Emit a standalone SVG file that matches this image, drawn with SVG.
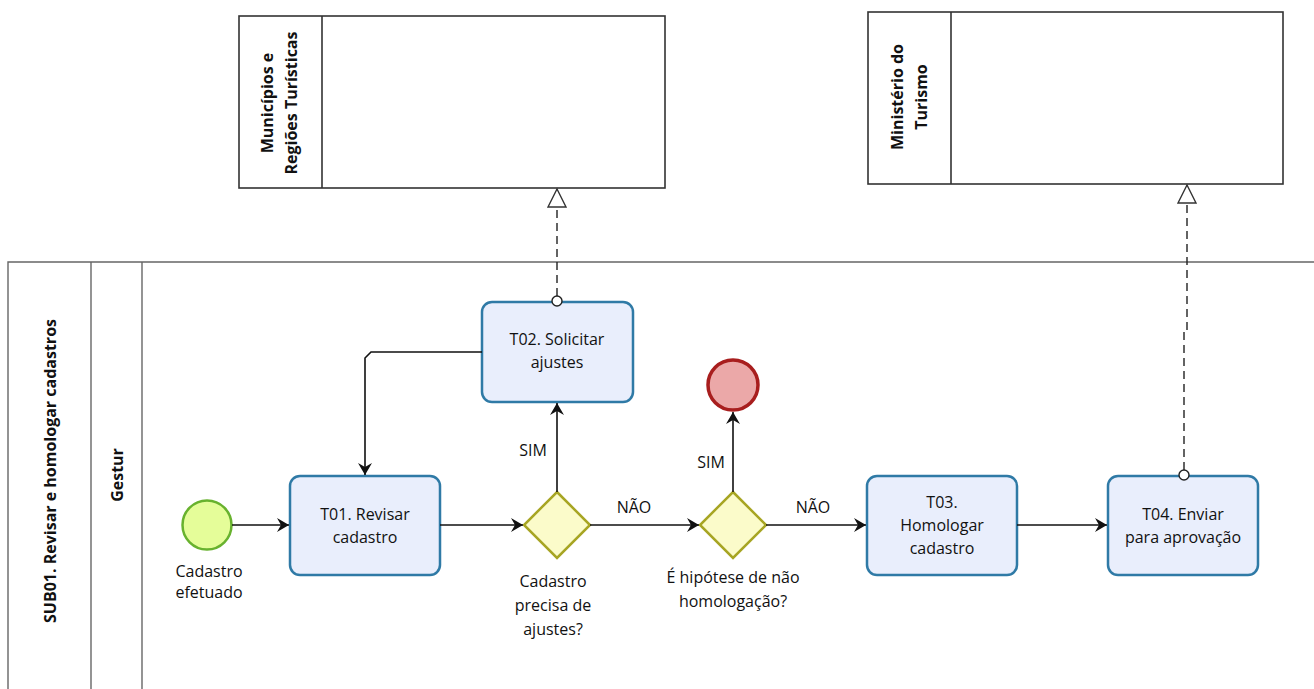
<svg xmlns="http://www.w3.org/2000/svg" width="1314" height="689" viewBox="0 0 1314 689">
<style>
text{font-family:"Open Sans","Noto Sans","Liberation Sans",sans-serif;fill:#111}
.lbl{font-size:16px;text-anchor:middle}
.pool{fill:#fff;stroke:#333;stroke-width:1.6}
.pl{font-size:16px;font-weight:bold;text-anchor:middle}
.task{fill:#e9eefc;stroke:#2f7aa6;stroke-width:2.5}
.gw{fill:#fbfbca;stroke:#a7a523;stroke-width:2.5}
.flow{fill:none;stroke:#111;stroke-width:1.6}
.msg{fill:none;stroke:#222;stroke-width:1.4;stroke-dasharray:8,5}
</style>
<defs>
<marker id="arr" markerWidth="14" markerHeight="14" refX="12" refY="7" orient="auto" markerUnits="userSpaceOnUse">
<path d="M0,0 L12,7 L0,14 L4,7 Z" fill="#111"/>
</marker>
<marker id="tri" markerWidth="22" markerHeight="20" refX="19" refY="10" orient="auto" markerUnits="userSpaceOnUse">
<path d="M1,1 L19,10 L1,19 Z" fill="#fff" stroke="#333" stroke-width="1.4"/>
</marker>
</defs>
<rect width="1314" height="689" fill="#fff"/>

<g id="pool-municipios">
<rect class="pool" x="239" y="16" width="426" height="172"/>
<line x1="322" y1="16" x2="322" y2="188" stroke="#333" stroke-width="1.6"/>
<text class="pl" transform="translate(273,103) rotate(-90)">Municípios e</text>
<text class="pl" transform="translate(297,103) rotate(-90)">Regiões Turísticas</text>
</g>

<g id="pool-ministerio">
<rect class="pool" x="868" y="12" width="415" height="172"/>
<line x1="951" y1="12" x2="951" y2="184" stroke="#333" stroke-width="1.6"/>
<text class="pl" transform="translate(903,97) rotate(-90)">Ministério do</text>
<text class="pl" transform="translate(927,97) rotate(-90)">Turismo</text>
</g>

<g id="pool-sub01">
<path d="M1314,262 H8 V689" fill="none" stroke="#666" stroke-width="1.4"/>
<line x1="91" y1="262" x2="91" y2="689" stroke="#666" stroke-width="1.4"/>
<line x1="142" y1="262" x2="142" y2="689" stroke="#666" stroke-width="1.4"/>
<text class="pl" transform="translate(56,471) rotate(-90)">SUB01. Revisar e homologar cadastros</text>
<text class="pl" transform="translate(123,475) rotate(-90)">Gestur</text>
</g>

<g id="start">
<circle cx="207" cy="525" r="24.5" fill="#e5fd99" stroke="#68b22e" stroke-width="2.5"/>
<text class="lbl" x="209" y="577">Cadastro</text>
<text class="lbl" x="209" y="598">efetuado</text>
</g>

<g id="t01">
<rect class="task" x="290" y="476" width="150" height="99" rx="10"/>
<text class="lbl" x="365" y="520">T01. Revisar</text>
<text class="lbl" x="365" y="543">cadastro</text>
</g>

<g id="t02">
<rect class="task" x="482" y="302" width="151" height="100" rx="10"/>
<text class="lbl" x="557" y="345">T02. Solicitar</text>
<text class="lbl" x="557" y="368">ajustes</text>
</g>

<g id="gw1">
<path class="gw" d="M557,492 L590,525 L557,558 L524,525 Z"/>
<text class="lbl" x="553" y="587">Cadastro</text>
<text class="lbl" x="553" y="611">precisa de</text>
<text class="lbl" x="553" y="635">ajustes?</text>
</g>

<g id="gw2">
<path class="gw" d="M733,492 L766,525 L733,558 L700,525 Z"/>
<text class="lbl" x="733" y="583">É hipótese de não</text>
<text class="lbl" x="733" y="607">homologação?</text>
</g>

<g id="end">
<circle cx="733" cy="385" r="25" fill="#eba8a8" stroke="#a81e1e" stroke-width="3.5"/>
</g>

<g id="t03">
<rect class="task" x="867" y="476" width="150" height="99" rx="10"/>
<text class="lbl" x="942" y="508">T03.</text>
<text class="lbl" x="942" y="531">Homologar</text>
<text class="lbl" x="942" y="554">cadastro</text>
</g>

<g id="t04">
<rect class="task" x="1108" y="476" width="150" height="99" rx="10"/>
<text class="lbl" x="1183" y="520">T04. Enviar</text>
<text class="lbl" x="1183" y="543">para aprovação</text>
</g>

<g id="connectors">
<line class="flow" x1="232" y1="525" x2="289" y2="525" marker-end="url(#arr)"/>
<line class="flow" x1="440" y1="525" x2="523" y2="525" marker-end="url(#arr)"/>
<line class="flow" x1="557" y1="492" x2="557" y2="403" marker-end="url(#arr)"/>
<path class="flow" d="M482,352 H371 L365,358 V475" marker-end="url(#arr)"/>
<line class="flow" x1="590" y1="525" x2="699" y2="525" marker-end="url(#arr)"/>
<line class="flow" x1="733" y1="492" x2="733" y2="412" marker-end="url(#arr)"/>
<line class="flow" x1="766" y1="525" x2="866" y2="525" marker-end="url(#arr)"/>
<line class="flow" x1="1017" y1="525" x2="1107" y2="525" marker-end="url(#arr)"/>
<path class="msg" d="M557,296 V189" marker-end="url(#tri)"/>
<circle cx="557" cy="301" r="5" fill="#fff" stroke="#222" stroke-width="1.4"/>
<path class="msg" d="M1184,470 V330 H1187 V185" marker-end="url(#tri)"/>
<circle cx="1184" cy="475" r="5" fill="#fff" stroke="#222" stroke-width="1.4"/>
<text class="lbl" x="533" y="456">SIM</text>
<text class="lbl" x="634" y="513">NÃO</text>
<text class="lbl" x="711" y="468">SIM</text>
<text class="lbl" x="813" y="513">NÃO</text>
</g>
</svg>
